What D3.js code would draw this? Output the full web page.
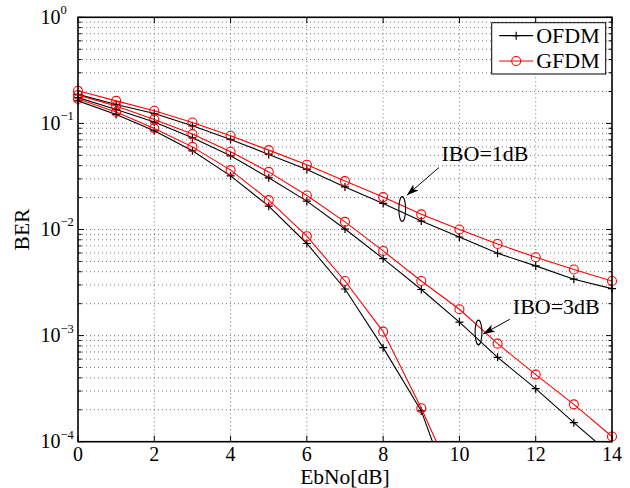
<!DOCTYPE html>
<html>
<head>
<meta charset="utf-8">
<script src="https://cdn.jsdelivr.net/npm/d3@7"></script>
<style>
  body { margin: 0; background: #fff; }
</style>
</head>
<body>
<div id="chart"></div>
<script>
const ebno = [0, 1, 2, 3, 4, 5, 6, 7, 8, 9, 10, 11, 12, 13, 14];

// IBO = 1dB
const ofdmIbo1 = [0.188, 0.151, 0.124, 0.0949, 0.0706, 0.051, 0.0368, 0.0252, 0.0176, 0.0120, 0.0085, 0.00597, 0.00454, 0.0034, 0.00277];
const gfdmIbo1 = [0.203, 0.163, 0.1315, 0.102, 0.0764, 0.056, 0.0407, 0.0286, 0.0202, 0.0139, 0.0100, 0.00731, 0.00548, 0.0042, 0.00327];
// IBO = 3dB
const ofdmIbo3 = [0.175, 0.1355, 0.103, 0.0731, 0.0495, 0.0307, 0.0185, 0.0101, 0.00532, 0.00272, 0.00134, 0.000624, 0.000316, 0.000151, 0.000074];
const gfdmIbo3 = [0.185, 0.146, 0.109, 0.0793, 0.054, 0.0349, 0.0209, 0.0118, 0.00628, 0.00327, 0.00177, 0.00084, 0.000429, 0.000225, 0.000112];
// third (unlabelled) pair, leaves the axes after 9 dB
const ofdmIbo5 = [0.163, 0.1216, 0.0851, 0.0552, 0.032, 0.0166, 0.00738, 0.00275, 0.00077, 0.000195, 0.00002];
const gfdmIbo5 = [0.170, 0.128, 0.0897, 0.0601, 0.0363, 0.0189, 0.00865, 0.00327, 0.00109, 0.000207, 0.000033];

const xTicks = [0, 2, 4, 6, 8, 10, 12, 14];
const yDecades = [1e-4, 1e-3, 1e-2, 1e-1, 1];
const yExponents = ["−4", "−3", "−2", "−1", "0"];

const legendItems = ["OFDM", "GFDM"];

const annotations = [
  { label: "IBO=1dB", ex: 8.5, ey: 0.0156, tx: 9.53, ty: 0.044, tip: [4.6, -13.7], tail: [36.6, -41.4] },
  { label: "IBO=3dB", ex: 10.5, ey: 0.00107, tx: 11.4, ty: 0.0016, tip: [4.6, 1.5], tail: [31.3, -13.2] },
];

const width = 630, height = 488;
const margin = { top: 17.3, right: 18, bottom: 46.3, left: 78 };
const iw = width - margin.left - margin.right;
const ih = height - margin.top - margin.bottom;

const svg = d3.select("#chart").append("svg")
  .attr("width", width)
  .attr("height", height)
  .attr("font-family", "'Times New Roman', 'Liberation Serif', 'DejaVu Serif', serif");

svg.append("defs").append("clipPath").attr("id", "clip")
  .append("rect").attr("width", iw).attr("height", ih);

const arrowHead = svg.select("defs").append("marker")
  .attr("id", "arrow")
  .attr("viewBox", "0 0 12 8")
  .attr("refX", 12).attr("refY", 4)
  .attr("markerWidth", 12).attr("markerHeight", 8)
  .attr("markerUnits", "userSpaceOnUse")
  .attr("orient", "auto");
arrowHead.append("path").attr("d", "M0,0 L12,4 L0,8 L3,4 Z").attr("fill", "#000");

const g = svg.append("g").attr("transform", `translate(${margin.left},${margin.top})`);

const x = d3.scaleLinear().domain([0, 14]).range([0, iw]);
const y = d3.scaleLog().domain([1e-4, 1]).range([ih, 0]);

// minor log ticks 2..9 per decade
const yMinor = [];
yDecades.slice(0, -1).forEach(d => {
  for (let k = 2; k <= 9; k++) yMinor.push(d * k);
});

// grid
const grid = g.append("g").attr("stroke", "#555").attr("stroke-width", 0.8).attr("stroke-dasharray", "1,3");
grid.selectAll(".gx").data(xTicks.slice(1, -1)).join("line")
  .attr("x1", d => x(d)).attr("x2", d => x(d)).attr("y1", 0).attr("y2", ih);
grid.selectAll(".gy").data(yMinor.concat(yDecades.slice(1, -1))).join("line")
  .attr("x1", 0).attr("x2", iw).attr("y1", d => y(d)).attr("y2", d => y(d));

// ticks (inward, all four sides)
const ticks = g.append("g").attr("stroke", "#000").attr("stroke-width", 1);
xTicks.forEach(t => {
  ticks.append("line").attr("x1", x(t)).attr("x2", x(t)).attr("y1", ih).attr("y2", ih - 6);
  ticks.append("line").attr("x1", x(t)).attr("x2", x(t)).attr("y1", 0).attr("y2", 6);
});
yDecades.forEach(t => {
  ticks.append("line").attr("x1", 0).attr("x2", 6).attr("y1", y(t)).attr("y2", y(t));
  ticks.append("line").attr("x1", iw).attr("x2", iw - 6).attr("y1", y(t)).attr("y2", y(t));
});
yMinor.forEach(t => {
  ticks.append("line").attr("x1", 0).attr("x2", 3.5).attr("y1", y(t)).attr("y2", y(t));
  ticks.append("line").attr("x1", iw).attr("x2", iw - 3.5).attr("y1", y(t)).attr("y2", y(t));
});

// series
const series = [
  { values: ofdmIbo1, color: "#000", marker: "plus" },
  { values: gfdmIbo1, color: "#f00", marker: "circle" },
  { values: ofdmIbo3, color: "#000", marker: "plus" },
  { values: gfdmIbo3, color: "#f00", marker: "circle" },
  { values: ofdmIbo5, color: "#000", marker: "plus" },
  { values: gfdmIbo5, color: "#f00", marker: "circle" },
];

const line = d3.line().x(d => x(d[0])).y(d => y(d[1]));

series.forEach(s => {
  const pts = s.values.map((v, i) => [ebno[i], v]);
  g.append("path")
    .attr("clip-path", "url(#clip)")
    .attr("d", line(pts))
    .attr("fill", "none")
    .attr("stroke", s.color)
    .attr("stroke-width", 1.1);
  const shown = pts.filter(p => p[1] >= 1e-4 && p[1] <= 1);
  if (s.marker === "plus") {
    g.selectAll(null).data(shown).join("path")
      .attr("d", d => `M${x(d[0]) - 4},${y(d[1])}H${x(d[0]) + 4}M${x(d[0])},${y(d[1]) - 4}V${y(d[1]) + 4}`)
      .attr("stroke", s.color).attr("stroke-width", 1.2);
  } else {
    g.selectAll(null).data(shown).join("circle")
      .attr("cx", d => x(d[0])).attr("cy", d => y(d[1])).attr("r", 4.5)
      .attr("fill", "none").attr("stroke", s.color).attr("stroke-width", 1.1);
  }
});

// axes box
g.append("rect").attr("width", iw).attr("height", ih)
  .attr("fill", "none").attr("stroke", "#000").attr("stroke-width", 1.6);

// x tick labels
g.selectAll(".xl").data(xTicks).join("text")
  .attr("x", d => x(d)).attr("y", ih + 19.5)
  .attr("text-anchor", "middle")
  .attr("font-size", 20)
  .text(d => d);

// y tick labels 10^n
yDecades.forEach((d, i) => {
  const t = g.append("text")
    .attr("x", -37.5).attr("y", y(d) + 6.7)
    .attr("font-size", 20);
  t.append("tspan").text("10");
  t.append("tspan").attr("font-size", 12.5).attr("dy", -9.7).text(yExponents[i]);
});

// axis titles
svg.append("text")
  .attr("x", margin.left + iw / 2).attr("y", height - 4.5)
  .attr("text-anchor", "middle").attr("font-size", 21.5)
  .text("EbNo[dB]");
svg.append("text")
  .attr("transform", `translate(29,${margin.top + ih / 2}) rotate(-90)`)
  .attr("text-anchor", "middle").attr("font-size", 21.5)
  .text("BER");

// annotations
annotations.forEach(a => {
  const cx = x(a.ex), cy = y(a.ey);
  g.append("ellipse").attr("cx", cx).attr("cy", cy).attr("rx", 3.4).attr("ry", 12.4)
    .attr("fill", "none").attr("stroke", "#000").attr("stroke-width", 1.1);
  g.append("line")
    .attr("x1", cx + a.tail[0]).attr("y1", cy + a.tail[1])
    .attr("x2", cx + a.tip[0]).attr("y2", cy + a.tip[1])
    .attr("stroke", "#000").attr("stroke-width", 1)
    .attr("marker-end", "url(#arrow)");
  g.append("text").attr("x", x(a.tx)).attr("y", y(a.ty))
    .attr("font-size", 22).text(a.label);
});

// legend
const lg = svg.append("g").attr("transform", "translate(491.7,22.7)");
lg.append("rect").attr("width", 114).attr("height", 51.3)
  .attr("fill", "#fff").attr("stroke", "#000").attr("stroke-width", 1);
legendItems.forEach((name, i) => {
  const s = series[i];
  const ry = 13 + i * 25.3;
  lg.append("line").attr("x1", 7.5).attr("x2", 41.5).attr("y1", ry).attr("y2", ry)
    .attr("stroke", s.color).attr("stroke-width", 1.2);
  if (s.marker === "plus") {
    lg.append("path").attr("d", `M20.5,${ry}H28.5M24.5,${ry - 4}V${ry + 4}`)
      .attr("stroke", s.color).attr("stroke-width", 1.2);
  } else {
    lg.append("circle").attr("cx", 24.5).attr("cy", ry).attr("r", 4.5)
      .attr("fill", "none").attr("stroke", s.color).attr("stroke-width", 1.1);
  }
  lg.append("text").attr("x", 44.5).attr("y", ry + 7.5).attr("font-size", 22).text(name);
});
</script>
</body>
</html>
